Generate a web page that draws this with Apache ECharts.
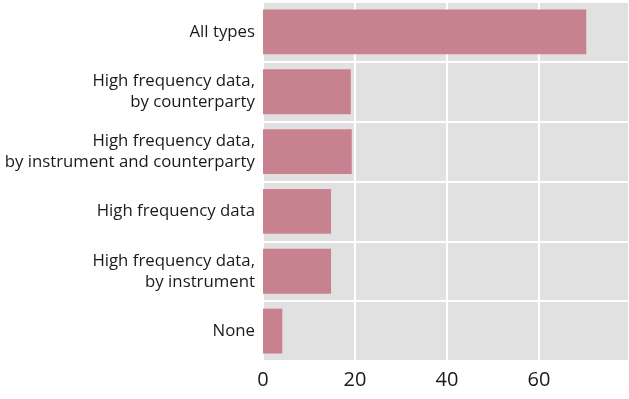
<!DOCTYPE html>
<html>
<head>
<meta charset="utf-8">
<script src="https://cdn.jsdelivr.net/npm/echarts@6/dist/echarts.min.js"></script>
<style>
html, body { margin: 0; padding: 0; background: #fff; }
#main { width: 629px; height: 399px; }
</style>
</head>
<body>
<div id="main"></div>
<script>
var categories = [
    'None',
    'High frequency data,\nby instrument',
    'High frequency data',
    'High frequency data,\nby instrument and counterparty',
    'High frequency data,\nby counterparty',
    'All types'
];
var values = [4.2, 14.8, 14.8, 19.3, 19.1, 70.3];
var xTicks = [0, 20, 40, 60];

var myChart = echarts.init(document.getElementById('main'));
var option = {
    animation: false,
    grid: {
        left: 263,
        right: 0,
        top: 2,
        bottom: 38,
        show: true,
        backgroundColor: '#e1e1e1',
        borderWidth: 0
    },
    xAxis: {
        type: 'value',
        min: 0,
        max: 79.6,
        interval: 20,
        axisLine: { show: false },
        axisTick: { show: false },
        splitLine: { lineStyle: { color: '#ffffff', width: 2 } },
        axisLabel: {
            margin: 9,
            fontFamily: 'Open Sans',
            fontSize: 20,
            color: '#1a1a1a',
            showMaxLabel: false,
            formatter: function (v) { return xTicks.indexOf(v) >= 0 ? String(v) : ''; }
        }
    },
    yAxis: {
        type: 'category',
        data: categories,
        axisLine: { show: false },
        axisTick: { show: false },
        splitLine: { show: true, lineStyle: { color: '#ffffff', width: 2 } },
        axisLabel: {
            margin: 8,
            fontFamily: 'Open Sans',
            fontSize: 16.8,
            lineHeight: 21,
            color: '#1a1a1a',
            align: 'right'
        }
    },
    series: [{
        type: 'bar',
        data: values,
        barWidth: '75%',
        itemStyle: { color: '#c8828f' }
    }]
};
myChart.setOption(option);
window.onresize = myChart.resize;
</script>
</body>
</html>
